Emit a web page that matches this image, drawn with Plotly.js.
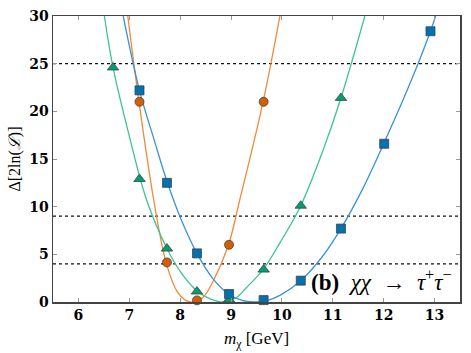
<!DOCTYPE html>
<html>
<head>
<meta charset="utf-8">
<script src="https://cdn.plot.ly/plotly-3.0.1.min.js"></script>
<style>html,body{margin:0;padding:0;background:#fff;}#chart{width:471px;height:353px;}</style>
</head>
<body>
<div id="chart"></div>
<script>
// marker data
const orangeX = [7.2, 7.74, 8.33, 8.96, 9.64];
const orangeY = [21.0, 4.15, 0.17, 6.0, 21.0];
const greenX = [6.68, 7.2, 7.74, 8.33, 8.96, 9.64, 10.37, 11.16];
const greenY = [24.6, 12.9, 5.6, 1.1, 0.25, 3.4, 10.1, 21.4];
const blueX = [7.2, 7.74, 8.33, 8.96, 9.64, 10.37, 11.16, 12.01, 12.92];
const blueY = [22.2, 12.5, 5.1, 0.84, 0.2, 2.24, 7.7, 16.6, 28.4];

// fitted curves
const orangeCurveX = [6.97, 7.19, 7.48, 7.73, 7.95, 8.1, 8.25, 8.45, 8.65, 8.95, 9.17, 9.63, 9.96];
const orangeCurveY = [30, 21, 10.7, 4.0, 1.0, 0.2, 0, 0.5, 2.2, 6.0, 10.7, 21, 30];
const greenCurveX = [6.51, 6.68, 7.0, 7.34, 7.75, 8.0, 8.32, 8.6, 8.85, 9.1, 9.3, 9.63, 9.96, 10.37, 10.8, 11.16, 11.63];
const greenCurveY = [30, 24.6, 17.4, 10.7, 5.5, 3.2, 1.2, 0.3, 0, 0.45, 1.5, 3.4, 6.2, 10.1, 15.8, 21.4, 30];
const blueCurveX = [6.88, 7.2, 7.5, 7.75, 8.0, 8.33, 8.65, 8.95, 9.2, 9.45, 9.7, 9.96, 10.37, 10.8, 11.16, 11.6, 12.0, 12.5, 12.92, 13.02];
const blueCurveY = [30, 22.2, 16.8, 12.5, 8.9, 5.1, 2.4, 0.84, 0.2, 0, 0.15, 0.7, 2.24, 4.8, 7.7, 12.0, 16.6, 22.7, 28.4, 30];

const refLines = [25, 9, 4];
const xTicks = [6, 7, 8, 9, 10, 11, 12, 13];
const yTicks = [0, 5, 10, 15, 20, 25, 30];

const ORANGE_L = '#F08A3C', ORANGE_M = '#D55E00';
const GREEN_L = '#3CC496', GREEN_M = '#009E73';
const BLUE_L = '#3B93D6', BLUE_M = '#0072B2';

function curve(x, y, c) {
  return {x: x, y: y, mode: 'lines', line: {color: c, width: 1.3, shape: 'spline', smoothing: 1}, hoverinfo: 'skip', showlegend: false};
}
function pts(x, y, c, sym, sz) {
  return {x: x, y: y, mode: 'markers', marker: {color: c, symbol: sym, size: sz, line: {color: '#444', width: 0.8}}, showlegend: false, cliponaxis: false};
}

const data = [
  curve(orangeCurveX, orangeCurveY, ORANGE_L),
  curve(greenCurveX, greenCurveY, GREEN_L),
  curve(blueCurveX, blueCurveY, BLUE_L),
  pts(orangeX, orangeY, ORANGE_M, 'circle', 9),
  pts(greenX, greenY, GREEN_M, 'triangle-up', 10),
  pts(blueX, blueY, BLUE_M, 'square', 9)
];

const shapes = refLines.map(v => ({type: 'line', xref: 'paper', x0: 0, x1: 1, yref: 'y', y0: v, y1: v,
  line: {color: '#111', width: 1.3, dash: 'dot'}, layer: 'below'}));

const SERIF = 'Liberation Serif, DejaVu Serif, serif';
const tickFont = {family: 'DejaVu Serif', size: 14, color: '#000', weight: 'bold'};

const layout = {
  width: 471, height: 353,
  margin: {l: 53, r: 11, t: 16, b: 51},
  paper_bgcolor: '#fff', plot_bgcolor: '#fff',
  xaxis: {
    range: [5.5, 13.5], tickvals: xTicks, ticktext: xTicks.map(v => '<b>' + v + '</b>'),
    ticks: 'inside', ticklen: 4, tickcolor: '#999', tickwidth: 1,
    showline: true, linecolor: '#444', linewidth: 1.5, mirror: 'ticks',
    showgrid: false, zeroline: false, tickfont: tickFont,
    title: {text: '<i>m</i><sub>χ</sub> [GeV]', font: {family: SERIF, size: 17, color: '#000'}, standoff: 10}
  },
  yaxis: {
    range: [0, 30], tickvals: yTicks, ticktext: yTicks.map(v => '<b>' + v + '</b>'),
    ticks: 'inside', ticklen: 4, tickcolor: '#999', tickwidth: 1,
    showline: true, linecolor: '#444', linewidth: 1.5, mirror: 'ticks',
    showgrid: false, zeroline: false, tickfont: tickFont,
    title: {text: 'Δ[2ln(<i>ℒ</i>)]', font: {family: SERIF, size: 16, color: '#000'}, standoff: 4}
  },
  shapes: shapes,
  annotations: [{
    xref: 'paper', yref: 'paper', x: 0.985, y: 0.075, xanchor: 'right', yanchor: 'middle', showarrow: false,
    text: '<b>(b)</b>  <i>χχ</i>  →  <i>τ</i><sup>+</sup><i>τ</i><sup>−</sup>',
    font: {family: SERIF, size: 23, color: '#000'}
  }]
};

Plotly.newPlot('chart', data, layout, {staticPlot: true, displayModeBar: false});
</script>
</body>
</html>
